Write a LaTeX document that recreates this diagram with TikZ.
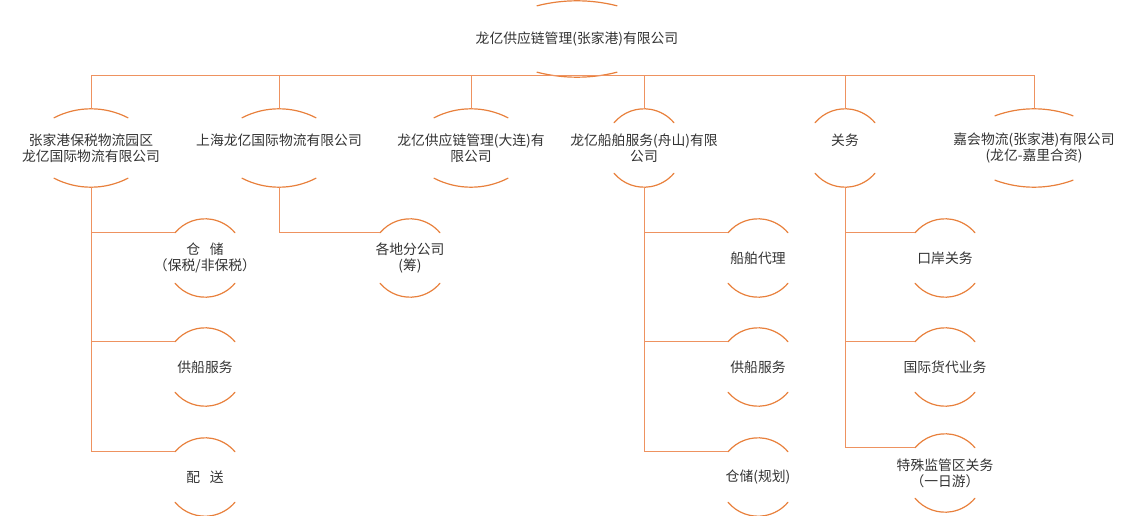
\documentclass[tikz,border=0pt]{standalone}
\usepackage{fontspec}
\usetikzlibrary{calc}
\newfontfamily\cjk{Noto Sans CJK SC}
\definecolor{caporange}{RGB}{232,128,60}
\definecolor{linkorange}{RGB}{238,146,96}
\definecolor{unittext}{RGB}{51,51,51}
\tikzset{
  unit/.style={inner sep=0pt, minimum width=60pt, minimum height=78pt, align=center,
               font=\cjk\fontsize{13.8}{16}\selectfont, text=unittext},
  wideunit/.style={unit, minimum width=74pt},
  link/.style={draw=linkorange, line width=0.9pt},
  capline/.style={draw=caporange, line width=1.2pt, line cap=round},
}
% two arcs round a unit: node, half chord, sagitta
\newcommand{\drawcaps}[3]{%
  \pgfmathsetmacro{\capr}{(#2*#2+#3*#3)/(2*#3)}%
  \pgfmathsetmacro{\capa}{asin(#2/\capr)}%
  \draw[capline] ($(#1.north)+(-#2,-#3)$) arc[start angle=90+\capa, end angle=90-\capa, radius=\capr];
  \draw[capline] ($(#1.south)+(-#2,#3)$) arc[start angle=270-\capa, end angle=270+\capa, radius=\capr];
}
\begin{document}
\begin{tikzpicture}[x=1pt, y=1pt]
  \useasboundingbox (0,0) rectangle (1148,-516);
  % head
  \node[wideunit, minimum height=76pt] (head) at (577,-39) {龙亿供应链管理(张家港)有限公司};
  % first level
  \node[wideunit] (zjg) at (91,-148) {张家港保税物流园区\\龙亿国际物流有限公司};
  \node[wideunit] (sh) at (279,-148) {上海龙亿国际物流有限公司\\\mbox{}};
  \node[wideunit] (dl) at (471,-148) {龙亿供应链管理(大连)有\\限公司};
  \node[unit] (zs) at (644,-148) {龙亿船舶服务(舟山)有限\\公司};
  \node[unit] (gw) at (845,-148) {关务\\\mbox{}};
  \node[wideunit] (jh) at (1034,-148) {嘉会物流(张家港)有限公司\\(龙亿-嘉里合资)};
  % second level
  \node[unit] (cc) at (205,-258) {仓\hspace{0.7em}储\\（保税/非保税）};
  \node[unit] (gc) at (205,-367) {供船服务};
  \node[unit] (ps) at (205,-477) {配\hspace{0.7em}送};
  \node[unit] (fgs) at (410,-258) {各地分公司\\(筹)};
  \node[unit] (cbdl) at (758,-258) {船舶代理};
  \node[unit] (gcfw) at (758,-367) {供船服务};
  \node[unit] (ccgh) at (758,-477) {仓储(规划)};
  \node[unit] (kagw) at (945,-258) {口岸关务};
  \node[unit] (gjhd) at (945,-367) {国际货代业务};
  \node[unit] (tsjg) at (945,-473) {特殊监管区关务\\（一日游）};

  \drawcaps{head}{40}{5}
  \foreach \n in {zjg,sh,dl} {\drawcaps{\n}{37}{9}}
  \drawcaps{jh}{39}{7}
  \foreach \n in {zs,gw,cc,gc,ps,fgs,cbdl,gcfw,ccgh,kagw,gjhd,tsjg} {\drawcaps{\n}{30}{14}}

  \coordinate (bus) at ($(head.south)+(0,2)$);
  \draw[link] (zjg.north) |- (bus) -| (jh.north);
  \foreach \n in {sh,dl,zs,gw} {\draw[link] (\n.north) |- (bus);}
  \foreach \p/\c in {zjg/cc,zjg/gc,zjg/ps,sh/fgs,zs/cbdl,zs/gcfw,zs/ccgh,gw/kagw,gw/gjhd,gw/tsjg}
    {\draw[link] (\p.south) |- ($(\c.north)+(-30,-14)$);}
\end{tikzpicture}
\end{document}
